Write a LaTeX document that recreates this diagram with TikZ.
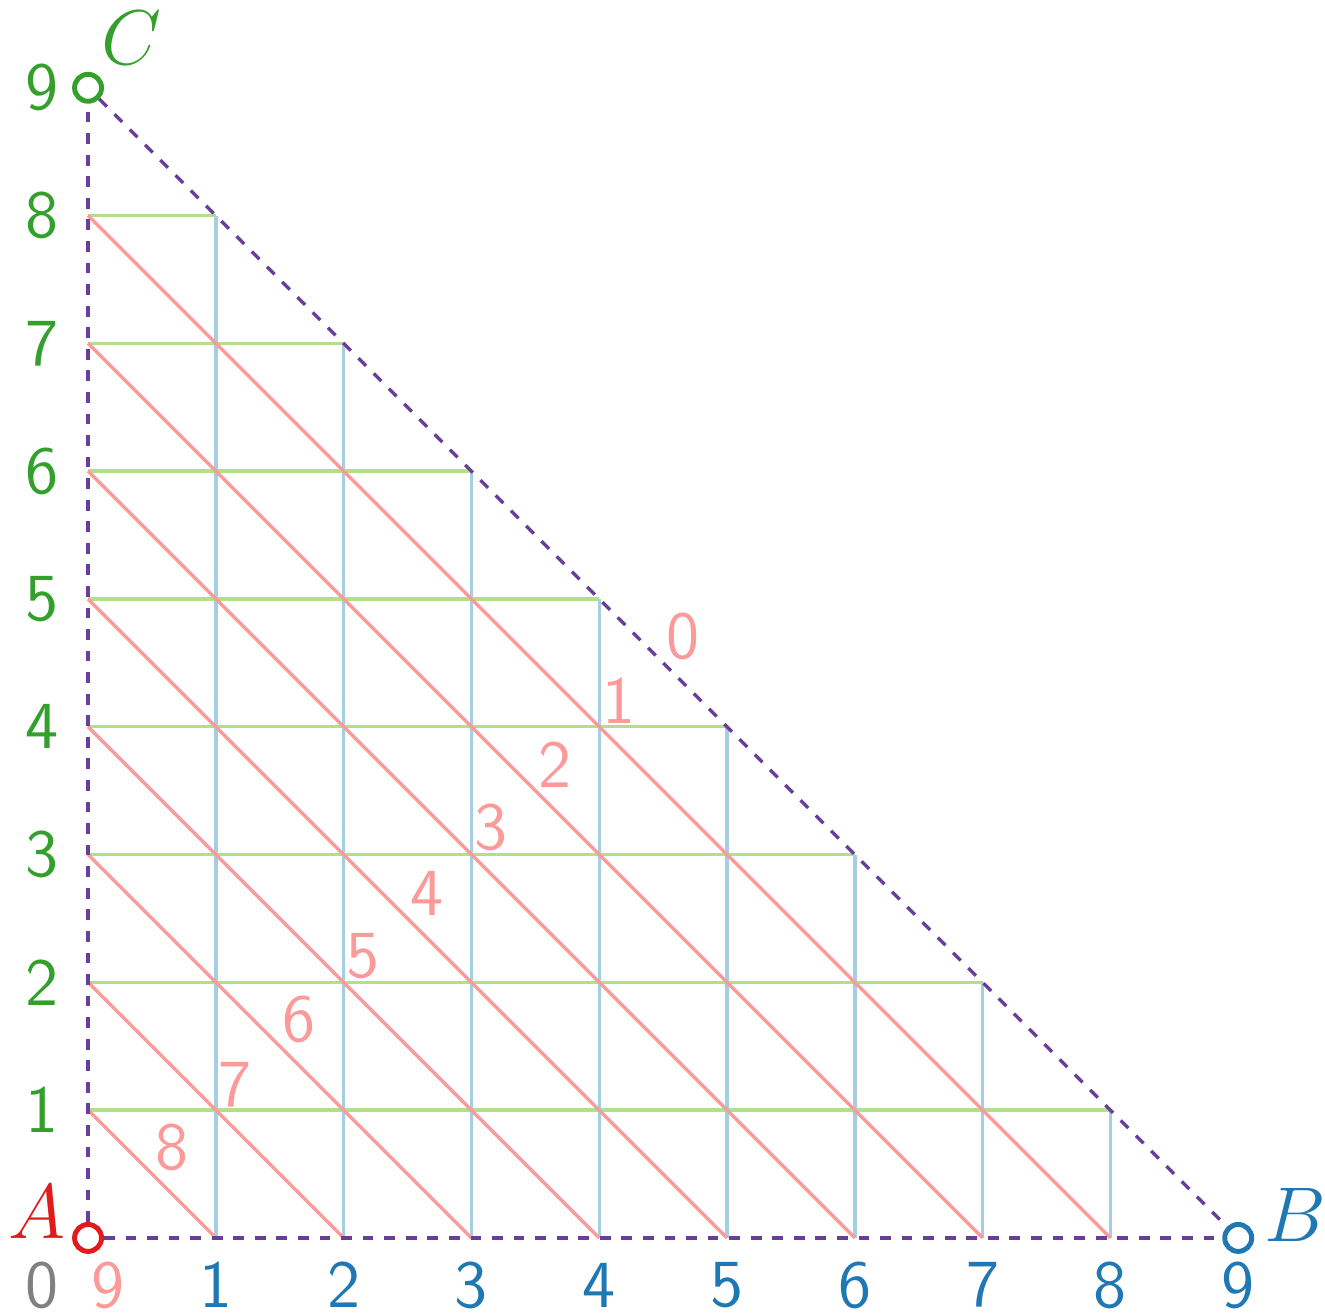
\documentclass[tikz,border=0pt]{standalone}
\usepackage{xcolor}
\definecolor{ptgreen}{HTML}{33A02C}
\definecolor{ptblue}{HTML}{1F78B4}
\definecolor{ptred}{HTML}{E31A1C}
\definecolor{ptpink}{HTML}{FB9A99}
\definecolor{ptlgreen}{HTML}{B2DF8A}
\definecolor{ptlblue}{HTML}{A6CEE3}
\definecolor{ptpurple}{HTML}{6A3D9A}
\definecolor{ptgrey}{HTML}{808080}
\usepackage{tikz}

\tikzset{
  vertex/.style={circle,fill=white,line width=1.1pt,inner sep=0pt,minimum size=6pt},
  edge/.style={ptpurple,line width=0.75pt,dash pattern=on 2.4pt off 2.4pt},
  gridline/.style={line width=0.75pt},
  numlab/.style={font=\fontsize{15}{18}\sffamily},
  cornerlab/.style={font=\fontsize{16}{19}\selectfont}
}

\begin{document}
\begin{tikzpicture}[x=1cm,y=1cm]
\useasboundingbox (-0.689,-0.610) rectangle (9.679,9.687);
% grid
\foreach \k in {1,...,8} {
  \draw[gridline,ptlgreen] (0,\k) -- ({9-\k},\k);
  \draw[gridline,ptlblue] (\k,0) -- (\k,{9-\k});
}
\foreach \k in {1,...,8}
  \draw[gridline,ptpink] (0,\k) -- (\k,0);
% corners
\node[vertex,draw=ptred] (A) at (0,0) {};
\node[vertex,draw=ptblue] (B) at (9,0) {};
\node[vertex,draw=ptgreen] (C) at (0,9) {};
\draw[edge] (A) -- (B);
\draw[edge] (A) -- (C);
\draw[edge] (C) -- (B);
\node[cornerlab,ptred] (labA) at (-0.40,0.20) {$A$};
\node[cornerlab,ptblue] (labB) at (9.45,0.18) {$B$};
\node[cornerlab,ptgreen] (labC) at (0.34,9.39) {$C$};
% numbers
\foreach \k in {1,...,9} {
  \node[numlab,ptgreen] (y\k) at (-0.36,\k) {\k};
  \node[numlab,ptblue] (x\k) at (\k,-0.37) {\k};
}
\node[numlab,ptgrey] (zero) at (-0.36,-0.37) {0};
\node[numlab,ptpink] (nine) at (0.16,-0.37) {9};
\foreach \k [evaluate=\k as \n using int(9-\k)] in {1,...,9}
  \node[numlab,ptpink,anchor=south west,inner sep=0.5pt] (d\k) at ({\k/2},{\k/2}) {\n};
\end{tikzpicture}
\end{document}
